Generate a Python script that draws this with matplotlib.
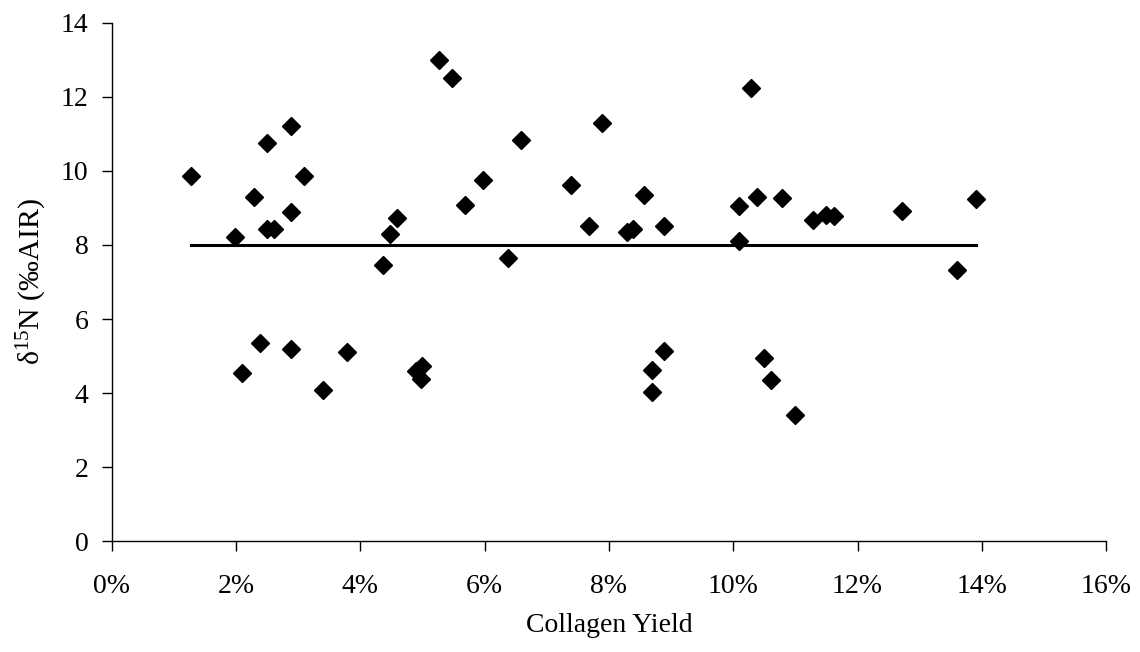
import numpy as np
from matplotlib import pyplot as plt
from matplotlib.ticker import FuncFormatter

plt.rcParams['font.family'] = ['Liberation Serif', 'DejaVu Serif']
plt.rcParams['mathtext.fontset'] = 'custom'
plt.rcParams['mathtext.rm'] = 'Liberation Serif'
plt.rcParams['mathtext.it'] = 'Liberation Serif:italic'

# collagen yield (%) and d15N (permil vs AIR)
collagen_yield = [1.28, 1.98, 2.28, 2.49, 2.88, 3.09, 2.49, 2.61, 2.88, 4.37,
                  4.48, 4.58, 5.27, 5.48, 5.68, 5.98, 6.38, 6.58, 7.39, 7.89,
                  7.68, 8.29, 8.39, 8.57, 8.89, 10.09, 10.09, 10.29, 10.39, 10.78,
                  11.29, 11.50, 11.62, 12.71, 13.60, 13.90, 2.09, 2.39, 2.88, 3.39,
                  3.78, 4.90, 4.99, 4.98, 8.89, 8.69, 8.69, 10.49, 10.60, 11.00]
d15n = [9.85, 8.22, 9.29, 10.76, 11.22, 9.85, 8.43, 8.43, 8.88, 7.46,
        8.30, 8.73, 13.00, 12.51, 9.09, 9.76, 7.65, 10.84, 9.63, 11.30,
        8.52, 8.36, 8.43, 9.35, 8.52, 9.05, 8.10, 12.24, 9.30, 9.26,
        8.68, 8.81, 8.78, 8.91, 7.33, 9.24, 4.53, 5.35, 5.19, 4.09,
        5.11, 4.60, 4.74, 4.38, 5.13, 4.62, 4.02, 4.95, 4.35, 3.42]
mean_line = 8.0

x = np.array(collagen_yield) / 100
y = np.array(d15n)

fig = plt.figure(figsize=(11.4, 6.52), dpi=100)
ax = fig.add_axes([0.0982, 0.170, 0.872, 0.795])

ax.plot([x.min(), x.max()], [mean_line, mean_line], color='black', lw=2.2, zorder=2)
ax.plot(x, y, linestyle='none', marker='D', ms=9.6, color='black', zorder=3)

ax.set_xlim(0, 0.16)
ax.set_ylim(0, 14)
ax.set_xticks(np.arange(0, 0.161, 0.02))
ax.set_yticks(np.arange(0, 15, 2))
ax.xaxis.set_major_formatter(FuncFormatter(lambda v, p: f'{v * 100:.0f}%'))

for s in ['top', 'right']:
    ax.spines[s].set_visible(False)
for s in ['left', 'bottom']:
    ax.spines[s].set_linewidth(1.0)
ax.tick_params(direction='out', length=7, width=1.0, labelsize=20)
ax.tick_params(axis='x', pad=17)
ax.tick_params(axis='y', pad=10)

ax.set_xlabel('Collagen Yield', fontsize=20, labelpad=10)
ax.set_ylabel('δ$^{15}$N (‰AIR)', fontsize=21.5, labelpad=8)

plt.savefig('out.png', dpi=100)
